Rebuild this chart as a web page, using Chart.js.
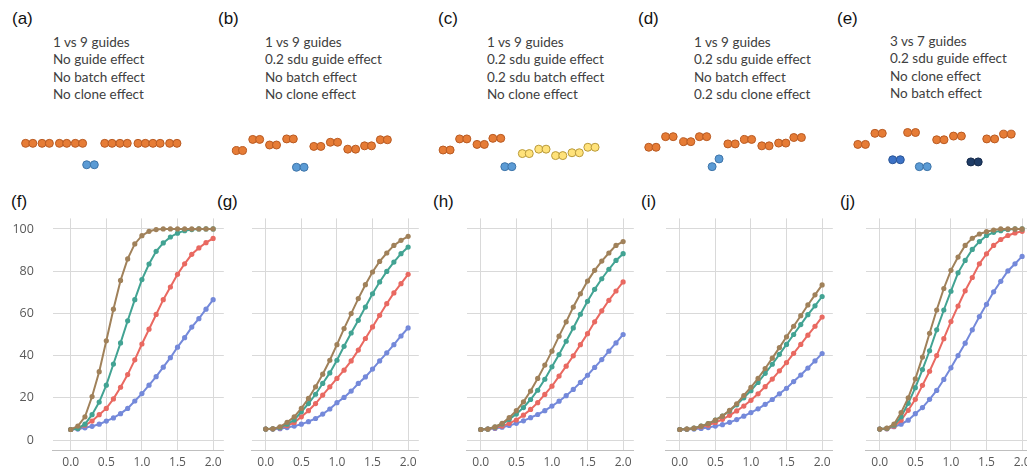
<!DOCTYPE html>
<html>
<head>
<meta charset="utf-8">
<script src="https://cdn.jsdelivr.net/npm/chart.js@4.4.1/dist/chart.umd.min.js"></script>
<style>
  body { margin: 0; width: 1027px; height: 472px; overflow: hidden; background: #fff; position: relative; }
  .box { position: absolute; }
  .tag { position: absolute; font: 17px "Liberation Sans", Arial, sans-serif; color: #111; }
  .note { position: absolute; font: 13.5px Lato, "Open Sans", sans-serif; color: #404040; line-height: 17.4px; white-space: nowrap; }
</style>
</head>
<body>

<div class="tag" style="left:12px;top:9px">(a)</div>
<div class="tag" style="left:218px;top:9px">(b)</div>
<div class="tag" style="left:438px;top:9px">(c)</div>
<div class="tag" style="left:638px;top:9px">(d)</div>
<div class="tag" style="left:837px;top:9px">(e)</div>

<div class="tag" style="left:11px;top:192px">(f)</div>
<div class="tag" style="left:217px;top:192px">(g)</div>
<div class="tag" style="left:433px;top:192px">(h)</div>
<div class="tag" style="left:641px;top:192px">(i)</div>
<div class="tag" style="left:840px;top:192px">(j)</div>

<div class="note" style="left:53px;top:34px">1 vs 9 guides<br>No guide effect<br>No batch effect<br>No clone effect</div>
<div class="note" style="left:265px;top:34px">1 vs 9 guides<br>0.2 sdu guide effect<br>No batch effect<br>No clone effect</div>
<div class="note" style="left:487px;top:34px">1 vs 9 guides<br>0.2 sdu guide effect<br>0.2 sdu batch effect<br>No clone effect</div>
<div class="note" style="left:694px;top:34px">1 vs 9 guides<br>0.2 sdu guide effect<br>No batch effect<br>0.2 sdu clone effect</div>
<div class="note" style="left:890px;top:33px">3 vs 7 guides<br>0.2 sdu guide effect<br>No clone effect<br>No batch effect</div>

<div class="box" style="left:0px;top:120px"><canvas id="dotsA" width="200" height="60"></canvas></div>
<div class="box" style="left:205px;top:120px"><canvas id="dotsB" width="200" height="60"></canvas></div>
<div class="box" style="left:415px;top:120px"><canvas id="dotsC" width="200" height="60"></canvas></div>
<div class="box" style="left:620px;top:120px"><canvas id="dotsD" width="200" height="60"></canvas></div>
<div class="box" style="left:825px;top:120px"><canvas id="dotsE" width="200" height="60"></canvas></div>

<div class="box" style="left:0px;top:200px"><canvas id="curveF" width="240" height="272"></canvas></div>
<div class="box" style="left:195px;top:200px"><canvas id="curveG" width="240" height="272"></canvas></div>
<div class="box" style="left:410px;top:200px"><canvas id="curveH" width="240" height="272"></canvas></div>
<div class="box" style="left:609px;top:200px"><canvas id="curveI" width="240" height="272"></canvas></div>
<div class="box" style="left:809px;top:200px"><canvas id="curveJ" width="240" height="272"></canvas></div>

<script>
// effect size steps along x
const doseSteps = [0.0, 0.1, 0.2, 0.3, 0.4, 0.5, 0.6, 0.7, 0.8, 0.9, 1.0, 1.1, 1.2, 1.3, 1.4, 1.5, 1.6, 1.7, 1.8, 1.9, 2.0];
const xTicks = [0, 0.5, 1, 1.5, 2];
const yTicks = [0, 20, 40, 60, 80, 100];

// power curves, panel f..j (brown, teal, red, blue)
const fBrown = [5, 6.6, 11, 20.6, 32.4, 47, 62, 75.6, 85.8, 92.9, 96.8, 98.9, 99.7, 100, 100, 100, 100, 100, 100, 100, 100];
const fTeal = [5, 5.5, 7.5, 12, 18, 26, 36, 46, 56.5, 66.5, 76, 83.4, 89.4, 93.4, 96.2, 98, 99.2, 99.7, 100, 100, 100];
const fRed = [5, 5.5, 7, 9, 12, 15, 19.5, 25, 31, 38, 45.5, 52.5, 59.5, 66.5, 72.5, 78.5, 83.5, 88, 91, 93.5, 95.5];
const fBlue = [5, 5.2, 5.8, 6.5, 7.5, 9, 10.5, 12.5, 15, 18.5, 22, 26, 30, 34.5, 39, 44, 48.5, 53.5, 57.5, 62, 66.5];

const gBrown = [5.2, 5.3, 6.3, 8.4, 11, 15, 19.7, 25.2, 31.2, 37.8, 45.2, 52.8, 59.9, 67, 73.6, 79.6, 84.6, 88.6, 92.2, 94.6, 96.5];
const gTeal = [5.2, 5.3, 6, 7.5, 9.5, 13.4, 17.3, 21.7, 26.8, 31.8, 37.8, 44.4, 50.7, 56.7, 63, 69.3, 74.9, 79.9, 84.3, 88.3, 91.4];
const gRed = [5.2, 5.3, 5.8, 6.8, 8.3, 11, 13.9, 17.3, 21.3, 25.2, 29.2, 33.1, 37.5, 42.6, 48.1, 53.6, 59.1, 64.6, 69.7, 74.1, 78.5];
const gBlue = [5.2, 5.2, 5.4, 5.9, 6.6, 7.5, 8.7, 10.2, 12.3, 14.7, 17.7, 20.2, 23.2, 26.8, 29.9, 33.6, 37.5, 41.3, 45.2, 49.3, 53.1];

const hBrown = [5, 5.2, 6.3, 7.9, 10.6, 13.9, 18.1, 23.2, 29.2, 35.5, 42.1, 49.2, 56, 63, 69.3, 75.3, 80.4, 84.8, 88.6, 92.2, 94];
const hTeal = [5, 5.2, 6.1, 7.6, 9.8, 12.3, 15.4, 19.2, 23.6, 28.8, 34.7, 40.5, 46.8, 53.1, 59.6, 65.7, 71.4, 76.4, 80.9, 85.1, 88.3];
const hRed = [5, 5.2, 5.8, 6.6, 7.9, 9.5, 11.8, 14.5, 17.7, 21.6, 25.5, 30.3, 35, 39.9, 45.2, 50.4, 56, 61.2, 66.2, 70.6, 74.9];
const hBlue = [5, 5.2, 5.5, 6.1, 6.9, 7.9, 9.1, 10.6, 12.1, 13.9, 16.1, 18.4, 21, 24, 27.3, 30.7, 34.4, 38.1, 42.1, 46, 50];

const iBrown = [5, 5.2, 5.6, 6.6, 7.8, 9.4, 11.4, 14.1, 17.2, 21.1, 25, 29.2, 33.9, 38.8, 43.8, 48.9, 53.9, 58.9, 64, 68.8, 73.5];
const iTeal = [5, 5.2, 5.6, 6.6, 7.8, 9.4, 11.4, 13.8, 16.7, 20, 23.4, 27.3, 31.6, 35.9, 40.6, 45.3, 50, 54.7, 59.4, 63.6, 68];
const iRed = [5, 5.2, 5.5, 6.3, 7, 8.3, 9.8, 11.7, 13.8, 16.1, 18.8, 21.9, 25.3, 28.9, 32.8, 36.7, 41.1, 45.3, 49.7, 53.9, 58.3];
const iBlue = [5, 5.1, 5.2, 5.5, 5.9, 6.6, 7.3, 8.4, 9.7, 11.3, 13, 14.8, 16.9, 19.2, 21.9, 24.5, 27.7, 30.8, 34.1, 37.5, 41];

const jBrown = [5.2, 5.6, 7.5, 13, 20, 29, 39.3, 50.6, 61.6, 71.8, 80.4, 86.7, 92.2, 95.6, 97.6, 98.7, 99.5, 100, 100, 100, 100];
const jTeal = [5.2, 5.5, 7, 11, 17.4, 24.8, 33.4, 42.3, 52.2, 61.6, 70.5, 79.2, 85.1, 90.3, 94, 96.9, 98.4, 99.2, 99.7, 100, 100];
const jRed = [5.2, 5.4, 6.5, 9.4, 14.1, 19.3, 25.9, 32.6, 40, 48, 56.1, 63.5, 70.7, 77, 83.5, 88.2, 92.2, 95, 96.9, 98.1, 98.9];
const jBlue = [5.2, 5.3, 6.3, 7.5, 9.4, 12.5, 15.4, 19.3, 23.5, 28.7, 34.2, 40, 45.9, 52.2, 58.5, 64.3, 70.2, 75.2, 80.1, 83.5, 87];

// schematic samples (position along panel, level)
const aOrangeX = [21.7, 29.3, 39, 46.7, 57.3, 65, 74, 81.7, 105, 112.7, 121, 128.7, 140, 147.7, 155.7, 163.3, 173.3, 181];
const aOrangeY = [8, 8, 8, 8, 8, 8, 8, 8, 8, 8, 8, 8, 8, 8, 8, 8, 8, 8];
const aBlueX = [86, 94];
const aBlueY = [-17.7, -17.7];

const bOrangeX = [27.7, 34.3, 45, 52.3, 62.7, 70, 80.7, 87.7, 109.3, 116.7, 126.7, 134.3, 145, 153.3, 162.7, 170, 179.3, 186.7];
const bOrangeY = [-0.7, -0.7, 12.7, 12.7, 6, 6, 13.3, 13.3, 4.3, 4.3, 9.3, 9.3, 1, 1, 5, 5, 12.3, 12.3];
const bBlueX = [91, 99];
const bBlueY = [-20.7, -20.7];

const cOrangeX = [24.3, 31.7, 41.7, 49.3, 60, 67.7, 76.7, 85];
const cOrangeY = [0, 0, 13.3, 13.3, 6.7, 6.7, 14, 14];
const cBlueX = [89.3, 96.7];
const cBlueY = [-20, -20];
const cYellowX = [107.7, 115, 125, 132.7, 142.7, 150.3, 160, 167.7, 176.7, 184.3];
const cYellowY = [-4.3, -4.3, 1, 1, -6.7, -6.7, -3.3, -3.3, 3.3, 3.3];

const dOrangeX = [25, 32.7, 42.7, 50.7, 61.7, 69.3, 78.3, 86, 108.3, 116, 125.7, 133.3, 144, 151.7, 161.7, 169.3, 177.7, 185.7];
const dOrangeY = [3.3, 3.3, 16, 16, 10, 10, 16, 16, 7.3, 7.3, 12.7, 12.7, 5, 5, 8.3, 8.3, 15, 15];
const dBlueX = [91.7, 99];
const dBlueY = [-20, -10.7];

const eOrangeX = [29.3, 37.3, 47.3, 55, 81.7, 90, 112.3, 120, 130, 138.3, 165, 173.3, 182.7, 190.7];
const eOrangeY = [6.7, 6.7, 20, 20, 21, 21, 12.3, 12.3, 16.7, 16.7, 13.3, 13.3, 19, 19];
const eBlue1X = [66, 74];
const eBlue1Y = [-11.7, -11.7];
const eBlue2X = [94, 102.3];
const eBlue2Y = [-20, -20];
const eNavyX = [148.3, 156];
const eNavyY = [-14.3, -14.3];

const BROWN = '#A0815A', TEAL = '#42A393', RED = '#E96961', BLUE = '#7489DA';

function zip(xs, ys) {
  return xs.map((x, i) => ({ x: x, y: ys[i] }));
}

function dotSet(xs, ys, fill, edge) {
  return {
    data: zip(xs, ys),
    backgroundColor: fill,
    borderColor: edge,
    borderWidth: 1,
    pointRadius: 4,
    pointHoverRadius: 4
  };
}

function drawDots(id, sets) {
  new Chart(document.getElementById(id), {
    type: 'scatter',
    data: { datasets: sets },
    options: {
      responsive: false,
      animation: false,
      events: [],
      plugins: { legend: { display: false }, tooltip: { enabled: false } },
      scales: {
        x: { type: 'linear', display: false, min: 0, max: 200 },
        y: { type: 'linear', display: false, min: -30, max: 30 }
      }
    }
  });
}

function line(values, color) {
  return {
    data: zip(doseSteps, values),
    borderColor: color,
    backgroundColor: color,
    borderWidth: 2,
    pointRadius: 2.6,
    pointBorderWidth: 0,
    fill: false,
    tension: 0
  };
}

// showY: only the first panel carries y tick labels
function drawCurves(id, brown, teal, red, blue, showY) {
  new Chart(document.getElementById(id), {
    type: 'line',
    data: { datasets: [line(brown, BROWN), line(teal, TEAL), line(red, RED), line(blue, BLUE)] },
    options: {
      responsive: false,
      animation: false,
      events: [],
      layout: { padding: { top: 18.4, right: 16.2, bottom: 0, left: 0 } },
      plugins: { legend: { display: false }, tooltip: { enabled: false } },
      scales: {
        x: {
          type: 'linear',
          min: showY ? -0.25 : -0.2,
          max: 2.15,
          afterBuildTicks: s => { s.ticks = xTicks.map(v => ({ value: v })); },
          afterFit: s => { s.height = 21.4; },
          grid: { color: '#D9D9D9', drawTicks: false },
          border: { color: '#BFBFBF' },
          ticks: { color: '#595959', padding: 5, font: { family: 'Open Sans', size: 12 }, callback: v => v.toFixed(1), maxRotation: 0 }
        },
        y: {
          type: 'linear',
          min: -5,
          max: 105,
          afterBuildTicks: s => { s.ticks = yTicks.map(v => ({ value: v })); },
          afterFit: s => { s.width = showY ? 52.9 : 56.5; },
          grid: { color: '#D9D9D9', drawTicks: showY, tickLength: 16, tickColor: 'rgba(0,0,0,0)' },
          border: { display: false },
          ticks: { display: showY, color: '#595959', padding: 3, font: { family: 'Open Sans', size: 12.5 } }
        }
      }
    }
  });
}

drawDots('dotsA', [dotSet(aOrangeX, aOrangeY, '#E67C36', '#B85A22'), dotSet(aBlueX, aBlueY, '#5B9BD5', '#3E74A8')]);
drawDots('dotsB', [dotSet(bOrangeX, bOrangeY, '#E67C36', '#B85A22'), dotSet(bBlueX, bBlueY, '#5B9BD5', '#3E74A8')]);
drawDots('dotsC', [dotSet(cOrangeX, cOrangeY, '#E67C36', '#B85A22'), dotSet(cBlueX, cBlueY, '#5B9BD5', '#3E74A8'), dotSet(cYellowX, cYellowY, '#FFE27A', '#B99A3A')]);
drawDots('dotsD', [dotSet(dOrangeX, dOrangeY, '#E67C36', '#B85A22'), dotSet(dBlueX, dBlueY, '#5B9BD5', '#3E74A8')]);
drawDots('dotsE', [dotSet(eOrangeX, eOrangeY, '#E67C36', '#B85A22'), dotSet(eBlue1X, eBlue1Y, '#3C72C6', '#2A5596'), dotSet(eBlue2X, eBlue2Y, '#5B9BD5', '#3E74A8'), dotSet(eNavyX, eNavyY, '#1F3C66', '#152A4A')]);

drawCurves('curveF', fBrown, fTeal, fRed, fBlue, true);
drawCurves('curveG', gBrown, gTeal, gRed, gBlue, false);
drawCurves('curveH', hBrown, hTeal, hRed, hBlue, false);
drawCurves('curveI', iBrown, iTeal, iRed, iBlue, false);
drawCurves('curveJ', jBrown, jTeal, jRed, jBlue, false);
</script>
</body>
</html>
